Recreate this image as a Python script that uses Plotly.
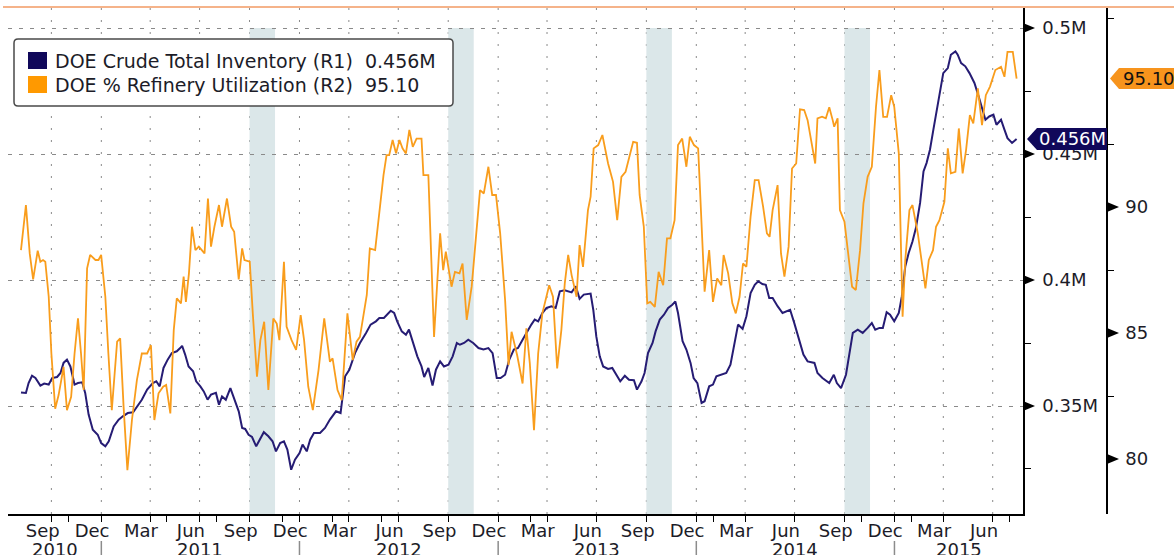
import pandas as pd
import plotly.graph_objects as go

# DOE weekly data.
# x positions are counted in weeks from the first print (6 Aug 2010)
start = pd.Timestamp("2010-08-06")

inv_week = [0, 1.3, 2.0, 2.9, 3.8, 5.1, 6.1, 7.3, 8.2, 9.5, 10.4, 11.2, 12.1, 13.0, 14.1, 15.0,
            16.1, 16.9, 17.8, 18.9, 20.2, 21.1, 22.2, 23.1, 24.4, 25.7, 26.8, 28.1, 29.5, 30.7,
            31.8, 33.2, 34.7, 35.6, 36.5, 37.5, 38.6, 39.7, 41.0, 41.9, 42.4, 43.2, 44.1, 45.3,
            46.1, 47.2, 48.1, 49.1, 50.0, 51.3, 52.1, 52.9, 53.9, 55.1, 56.1, 57.3, 58.2, 59.0,
            59.9, 60.8, 61.9, 63.0, 63.9, 65.1, 66.2, 67.1, 68.2, 69.2, 70.1, 71.1, 72.1, 73.3,
            74.1, 75.2, 76.1, 77.1, 78.7, 80.0, 81.3, 82.9, 84.1, 85.3, 86.4, 87.9, 89.2, 90.8,
            92.0, 93.4, 94.3, 95.5, 96.4, 97.3, 98.2, 99.0, 100.2, 101.3, 102.1, 103.1, 104.3,
            105.4, 106.1, 107.2, 108.3, 109.2, 110.3, 111.3, 112.5, 113.6, 114.7, 115.5, 116.6,
            117.7, 119.0, 120.4, 121.7, 123.0, 124.1, 125.2, 126.2, 127.4, 128.5, 129.7, 130.8,
            132.0, 133.2, 134.3, 135.2, 136.1, 137.2, 138.3, 139.6, 140.7, 141.8, 143.1, 144.9,
            146.0, 147.0, 148.1, 149.9, 150.6, 151.4, 152.3, 153.2, 154.5, 155.6, 156.7, 157.7,
            158.9, 160.0, 161.3, 162.1, 163.3, 164.1, 165.0, 166.2, 167.0, 168.1, 169.2, 170.3,
            171.4, 172.2, 172.9, 174.1, 175.1, 176.2, 177.0, 178.0, 179.1, 179.9, 181.1, 182.1,
            183.0, 184.1, 185.6, 186.7, 187.8, 188.7, 189.9, 190.9, 192.0, 193.1, 194.0, 195.1,
            196.0, 196.9, 197.8, 199.1, 200.4, 201.5, 202.4, 203.5, 204.8, 205.9, 207.0, 208.8,
            209.6, 210.9, 212.7, 213.9, 214.7, 215.8, 217.1, 218.0, 218.9, 220.2, 221.5, 222.8,
            223.9, 224.8, 225.9, 226.8, 227.8, 228.7, 229.8, 231.0, 231.8, 232.7, 233.6, 234.6,
            235.5, 236.6, 237.5, 238.3, 239.2, 240.1, 241.0, 241.8, 242.7, 243.9, 244.7, 245.9,
            246.5, 247.4, 248.5, 249.6, 250.9, 252.0, 252.9, 253.8, 254.8, 255.9, 256.7, 257.9,
            258.8, 259.6, 260.8, 262.0]
inv_level = [0.3554, 0.3552, 0.3591, 0.362, 0.3611, 0.3581, 0.3589, 0.3585, 0.3611, 0.3615, 0.3631,
             0.3671, 0.3684, 0.3657, 0.3585, 0.3591, 0.3594, 0.3552, 0.3466, 0.3406, 0.3386, 0.3353,
             0.334, 0.336, 0.3419, 0.3446, 0.3459, 0.3472, 0.3475, 0.3499, 0.3525, 0.3565, 0.3591,
             0.3598, 0.3578, 0.3651, 0.3684, 0.371, 0.3717, 0.373, 0.3739, 0.3704, 0.3657, 0.3638,
             0.3598, 0.3578, 0.3558, 0.3525, 0.3545, 0.3552, 0.3505, 0.3538, 0.3525, 0.3571, 0.3532,
             0.3479, 0.3413, 0.3409, 0.3386, 0.3377, 0.334, 0.3373, 0.3396, 0.338, 0.336, 0.332,
             0.3353, 0.336, 0.3327, 0.3247, 0.3287, 0.3313, 0.3347, 0.332, 0.3366, 0.3393, 0.3393,
             0.3413, 0.3446, 0.3479, 0.3472, 0.3618, 0.3644, 0.371, 0.375, 0.379, 0.3823, 0.3836,
             0.3849, 0.3849, 0.3862, 0.3878, 0.3869, 0.3836, 0.3796, 0.3783, 0.3803, 0.375, 0.3697,
             0.3657, 0.3615, 0.3651, 0.3581, 0.3644, 0.3677, 0.3657, 0.3664, 0.3697, 0.375, 0.3743,
             0.375, 0.3763, 0.375, 0.373, 0.3724, 0.373, 0.371, 0.3611, 0.3611, 0.3624, 0.3684,
             0.3724, 0.373, 0.3763, 0.3796, 0.3823, 0.3843, 0.3836, 0.3869, 0.3889, 0.3896, 0.3889,
             0.3955, 0.3959, 0.3951, 0.3975, 0.3925, 0.3942, 0.3946, 0.3882, 0.3776, 0.3697, 0.3657,
             0.3647, 0.3651, 0.362, 0.3598, 0.362, 0.3604, 0.3602, 0.3565, 0.3598, 0.3631, 0.371,
             0.375, 0.3796, 0.3843, 0.3862, 0.3889, 0.3902, 0.3915, 0.3869, 0.3757, 0.3724, 0.3671,
             0.3611, 0.3591, 0.3512, 0.3519, 0.3578, 0.3585, 0.3618, 0.3624, 0.3631, 0.3664, 0.375,
             0.3823, 0.3806, 0.3856, 0.3948, 0.3981, 0.3995, 0.3984, 0.3981, 0.3929, 0.3929, 0.3896,
             0.3869, 0.3876, 0.3882, 0.3829, 0.3763, 0.3704, 0.3677, 0.3671, 0.3631, 0.3611, 0.3591,
             0.3624, 0.3591, 0.3571, 0.3624, 0.371, 0.379, 0.3803, 0.379, 0.381, 0.3829, 0.3803,
             0.381, 0.381, 0.3872, 0.3862, 0.3836, 0.3869, 0.3935, 0.4054, 0.4107, 0.4153, 0.4206,
             0.4306, 0.4431, 0.4464, 0.4517, 0.4597, 0.4676, 0.4729, 0.4821, 0.4841, 0.4894, 0.4907,
             0.4894, 0.4861, 0.4848, 0.4821, 0.4782, 0.4729, 0.4683, 0.4636, 0.4649, 0.4656, 0.4616,
             0.4636, 0.4597, 0.4563, 0.4544, 0.456]

util_week = [0, 1.3, 2.3, 3.2, 4.4, 5.1, 5.8, 6.4, 7.3, 8.0, 9.0, 9.9, 10.6, 11.2, 12.1, 13.2, 14.1,
             15.0, 15.8, 16.5, 17.4, 18.2, 19.6, 20.4, 21.1, 22.2, 23.0, 23.9, 25.3, 26.1, 27.0,
             28.0, 29.2, 30.5, 31.8, 33.2, 34.2, 35.1, 36.2, 37.4, 38.2, 39.3, 40.2, 41.0, 42.1,
             42.8, 43.4, 44.2, 45.0, 45.9, 46.8, 47.6, 48.3, 49.2, 50.0, 50.9, 52.1, 52.9, 54.2,
             55.3, 56.1, 57.3, 58.2, 58.8, 60.2, 61.0, 62.1, 63.0, 64.0, 65.1, 66.4, 67.3, 68.0,
             69.2, 69.9, 71.2, 72.4, 73.6, 74.5, 75.6, 76.8, 78.3, 79.8, 81.3, 82.0, 83.3, 84.4,
             85.9, 87.3, 88.3, 89.2, 91.0, 91.8, 93.2, 94.0, 95.4, 96.2, 96.9, 97.8, 98.7, 99.6,
             100.4, 101.3, 102.2, 103.1, 104.1, 105.4, 105.9, 107.2, 108.7, 110.3, 111.1, 111.8,
             112.6, 113.3, 114.2, 115.4, 116.2, 117.3, 118.6, 120.8, 121.8, 123.0, 124.0, 125.0,
             126.1, 127.4, 128.3, 129.1, 130.6, 132.0, 133.0, 133.9, 135.0, 136.1, 137.2, 139.0,
             140.0, 141.1, 142.2, 143.1, 144.0, 144.9, 146.2, 147.0, 147.9, 149.2, 149.9, 150.7,
             151.9, 153.0, 154.5, 155.8, 156.9, 158.0, 159.1, 160.2, 161.1, 162.1, 162.8, 163.9,
             164.8, 165.6, 166.8, 167.8, 169.0, 170.0, 170.9, 172.0, 172.9, 174.0, 175.1, 176.0,
             177.1, 178.2, 179.1, 179.9, 181.1, 182.1, 183.2, 184.3, 184.9, 186.1, 187.2, 188.1,
             189.1, 190.0, 190.9, 192.0, 193.1, 194.1, 195.3, 196.3, 197.0, 197.8, 199.1, 200.0,
             200.9, 202.0, 202.9, 204.0, 205.0, 206.1, 207.0, 208.2, 209.0, 209.6, 210.8, 211.8,
             212.7, 213.6, 214.0, 214.9, 215.5, 216.7, 217.5, 218.7, 219.7, 220.8, 221.7, 222.8,
             223.9, 225.0, 225.9, 226.9, 227.9, 229.0, 229.8, 231.0, 232.0, 232.7, 233.8, 234.6,
             236.0, 236.8, 238.0, 238.9, 240.0, 240.8, 241.7, 243.0, 243.9, 244.7, 245.9, 246.8,
             247.8, 248.7, 249.7, 250.6, 251.8, 252.9, 253.9, 255.0, 256.4, 257.9, 258.8, 259.6,
             261.0, 262.0]
util_pct = [88.29, 90.08, 88.16, 87.13, 88.27, 87.83, 87.9, 87.83, 86.44, 84.19, 82.0, 82.54, 83.13,
            83.66, 81.94, 82.47, 84.19, 85.58, 84.19, 82.74, 87.57, 88.1, 87.9, 87.9, 88.1, 86.44,
            84.19, 81.94, 84.66, 84.79, 82.08, 79.56, 81.55, 83.13, 84.19, 84.19, 84.52, 81.55,
            82.61, 82.87, 82.94, 81.81, 85.12, 86.38, 86.18, 87.24, 86.24, 87.37, 89.22, 88.29,
            88.43, 88.29, 88.16, 90.34, 88.43, 89.22, 90.08, 89.22, 90.34, 89.22, 89.02, 87.13,
            88.36, 87.9, 87.83, 85.78, 83.27, 84.72, 85.45, 82.74, 85.58, 85.38, 84.72, 87.83,
            85.25, 84.72, 84.33, 85.71, 84.72, 82.87, 81.94, 83.53, 85.58, 83.86, 84.0, 82.74,
            82.34, 85.78, 83.93, 84.66, 84.85, 86.51, 88.36, 88.29, 89.48, 91.27, 92.06, 92.06,
            92.66, 92.13, 92.66, 92.33, 92.13, 93.06, 92.39, 92.72, 92.72, 91.27, 91.27, 84.85,
            88.96, 87.5, 88.23, 87.57, 86.84, 87.43, 87.37, 87.76, 85.52, 86.84, 90.67, 90.54,
            91.6, 90.48, 90.48, 88.96, 86.31, 83.73, 85.05, 84.1, 83.0, 85.19, 83.8, 81.15, 84.19,
            85.78, 86.9, 86.44, 83.6, 85.12, 86.97, 88.1, 87.3, 86.44, 88.49, 87.63, 89.88, 90.41,
            92.33, 92.46, 92.86, 91.73, 91.0, 89.48, 91.2, 91.4, 92.0, 92.59, 92.55, 90.48, 89.22,
            86.18, 86.24, 86.04, 87.43, 86.9, 88.76, 88.76, 89.48, 92.46, 92.72, 91.6, 92.79, 92.46,
            92.33, 89.48, 86.64, 88.29, 86.24, 87.17, 86.9, 88.1, 87.37, 86.18, 85.78, 86.44, 87.76,
            87.63, 89.62, 91.07, 91.07, 90.01, 88.96, 88.82, 89.88, 90.87, 88.16, 87.24, 88.43,
            91.53, 91.73, 93.88, 93.85, 93.45, 92.39, 91.73, 93.52, 93.59, 93.52, 93.96, 93.45,
            93.19, 93.52, 89.88, 89.42, 88.43, 86.84, 86.71, 88.29, 90.15, 91.2, 91.6, 93.98, 95.44,
            93.58, 93.58, 94.44, 93.98, 92.13, 85.65, 87.9, 89.88, 90.08, 88.96, 88.16, 86.77, 87.9,
            88.29, 89.22, 89.48, 90.21, 92.33, 91.34, 91.4, 93.12, 91.34, 92.26, 93.65, 93.32, 94.71,
            93.25, 94.44, 94.78, 95.44, 95.57, 95.17, 96.16, 96.16, 95.10]

# shaded autumn maintenance windows
maint_start = ["2011-10-01", "2012-10-01", "2013-10-01", "2014-10-01"]
maint_end = ["2011-11-17", "2012-11-17", "2013-11-17", "2014-11-17"]

# odd extra ticks on the Bloomberg date axis
extra_ticks = ["2010-11-01", "2011-05-01", "2011-08-01", "2011-12-01", "2012-03-01", "2012-06-01",
               "2013-03-01", "2014-02-01", "2014-11-01", "2015-02-01", "2015-08-01"]

inv_ticks = [0.35, 0.40, 0.45, 0.50]
inv_ticktext = ["0.35M", "0.4M", "0.45M", "0.5M"]
util_ticks = [80, 85, 90]
inv_last = 0.456
util_last = 95.10

assert len(inv_week) == len(inv_level), (len(inv_week), len(inv_level))
assert len(util_week) == len(util_pct), (len(util_week), len(util_pct))

inv_dates = [start + pd.Timedelta(days=7 * w) for w in inv_week]
util_dates = [start + pd.Timedelta(days=7 * w) for w in util_week]

NAVY = "#261c74"
NAVY_TAG = "#10085a"
ORANGE = "#f99d1c"
ORANGE_TAG = "#f7941d"
GRID = "#8a8a8a"
TXT = "#1c1c28"
FONT = "DejaVu Sans"

W, H = 1174, 555
ML, MR, MT, MB = 8, 67, 8, 41
PW, PH = W - ML - MR, H - MT - MB
XDOM = (1023 - ML) / PW


def px(x):
    return (x - ML) / PW


def py(y):
    return 1 - (y - MT) / PH


def rounded_box(x0, y0, x1, y1, r=4):
    # pixel box (top-left / bottom-right) -> rounded path in paper coords
    a, b, c, d = px(x0), py(y1), px(x1), py(y0)
    rx, ry = r / PW, r / PH
    return (f"M{a + rx},{d} L{c - rx},{d} Q{c},{d} {c},{d - ry} L{c},{b + ry} Q{c},{b} {c - rx},{b} "
            f"L{a + rx},{b} Q{a},{b} {a},{b + ry} L{a},{d - ry} Q{a},{d} {a + rx},{d} Z")


x_range = [pd.Timestamp("2010-07-13 02:00"), pd.Timestamp("2015-08-25 19:00")]
inv_range = [0.30714, 0.50794]
util_range = [77.82, 97.90]

month_pos = pd.date_range("2010-09-01", "2015-06-01", freq="3MS") + pd.Timedelta(days=14)
month_txt = [d.strftime("%b") for d in month_pos]
quarters = pd.date_range("2010-10-01", "2015-07-01", freq="QS")

fig = go.Figure()
fig.add_trace(go.Scatter(x=inv_dates, y=inv_level, mode="lines", yaxis="y",
                         line=dict(color=NAVY, width=2), hoverinfo="skip"))
fig.add_trace(go.Scatter(x=util_dates, y=util_pct, mode="lines", yaxis="y2",
                         line=dict(color=ORANGE, width=1.8), hoverinfo="skip"))

shapes = []
for s, e in zip(maint_start, maint_end):
    shapes.append(dict(type="rect", xref="x", yref="y", x0=s, x1=e, y0=inv_range[0], y1=0.5,
                       fillcolor="#dbe7e9", line=dict(width=0), layer="below"))
for q in quarters:
    shapes.append(dict(type="line", xref="x", yref="paper", x0=q, x1=q, y0=0, y1=1,
                       line=dict(color=GRID, width=1, dash="2px,10px"), layer="below"))

# arrow heads on the major ticks of both right hand axes
for v in inv_ticks:
    shapes.append(dict(type="path", xref="paper", xanchor=XDOM, xsizemode="pixel",
                       yref="y", yanchor=v, ysizemode="pixel",
                       path="M0,-5 L12,0 L0,5 Z", fillcolor="black", line=dict(width=0)))
for v in util_ticks:
    shapes.append(dict(type="path", xref="paper", xanchor=1, xsizemode="pixel",
                       yref="y2", yanchor=v, ysizemode="pixel",
                       path="M0,-5 L12,0 L0,5 Z", fillcolor="black", line=dict(width=0)))

# last value tags
shapes.append(dict(type="path", xref="paper", xanchor=XDOM, xsizemode="pixel",
                   yref="y", yanchor=inv_last, ysizemode="pixel",
                   path="M4,0 L14,-11 L84,-11 L84,11 L14,11 Z", fillcolor=NAVY_TAG, line=dict(width=0)))
shapes.append(dict(type="path", xref="paper", xanchor=1, xsizemode="pixel",
                   yref="y2", yanchor=util_last, ysizemode="pixel",
                   path="M3,0 L12,-10.5 L80,-10.5 L80,10.5 L12,10.5 Z", fillcolor=ORANGE_TAG,
                   line=dict(width=0)))

# year separators under the month labels
for yr in range(2011, 2016):
    shapes.append(dict(type="line", xref="x", yref="paper", x0=f"{yr}-01-01", x1=f"{yr}-01-01",
                       y0=py(541), y1=py(560), line=dict(color="#8c8c8c", width=1.5)))

# legend box
shapes.append(dict(type="path", xref="paper", yref="paper", path=rounded_box(14, 39, 453, 106),
                   fillcolor="white", line=dict(color="#4a4a4a", width=1.5)))
shapes.append(dict(type="rect", xref="paper", yref="paper", x0=px(28), x1=px(47), y0=py(69), y1=py(52),
                   fillcolor=NAVY_TAG, line=dict(width=0)))
shapes.append(dict(type="rect", xref="paper", yref="paper", x0=px(28), x1=px(47), y0=py(93), y1=py(76),
                   fillcolor="#ff9900", line=dict(width=0)))

# thin orange rule under the (cropped) headline
shapes.append(dict(type="line", xref="paper", yref="paper", x0=px(3), x1=px(W + 5), y0=py(7), y1=py(7),
                   line=dict(color="#f29a63", width=1.5)))

annotations = [
    dict(xref="paper", yref="paper", x=px(53), y=py(61), xanchor="left", yanchor="middle", showarrow=False,
         text="DOE Crude Total Inventory (R1)\u00a0 0.456M", font=dict(family=FONT, size=19, color=TXT)),
    dict(xref="paper", yref="paper", x=px(53), y=py(85), xanchor="left", yanchor="middle", showarrow=False,
         text="DOE % Refinery Utilization (R2)\u00a0 95.10", font=dict(family=FONT, size=19, color=TXT)),
    dict(xref="paper", yref="y", x=XDOM, y=inv_last, xanchor="left", yanchor="middle", xshift=14,
         showarrow=False, text=f"{inv_last:.3f}M", font=dict(family=FONT, size=18, color="white")),
    dict(xref="paper", yref="y2", x=1, y=util_last, xanchor="left", yanchor="middle", xshift=14,
         showarrow=False, text=f"{util_last:.2f}", font=dict(family=FONT, size=18, color="#111111")),
]

# year labels centred on the visible part of each year
for yr in range(2010, 2016):
    lo = max(x_range[0], pd.Timestamp(f"{yr}-01-01"))
    hi = min(x_range[1], pd.Timestamp(f"{yr + 1}-01-01"))
    annotations.append(dict(xref="x", yref="paper", x=lo + (hi - lo) / 2, y=py(549), yanchor="middle",
                            showarrow=False, text=str(yr), font=dict(family=FONT, size=18, color=TXT)))

fig.update_layout(
    width=W, height=H,
    margin=dict(l=ML, r=MR, t=MT, b=MB, pad=0),
    paper_bgcolor="white", plot_bgcolor="white",
    showlegend=False,
    font=dict(family=FONT, size=18, color=TXT),
    xaxis=dict(domain=[0, XDOM], type="date", range=x_range, showgrid=False, zeroline=False,
               showline=True, linecolor="black", linewidth=1.5,
               tickmode="array", tickvals=list(month_pos), ticktext=month_txt, ticks="",
               tickfont=dict(family=FONT, size=18, color=TXT),
               minor=dict(tickmode="array", tickvals=list(quarters) + extra_ticks, ticks="outside",
                          ticklen=6, tickcolor="black", tickwidth=1, showgrid=False)),
    yaxis=dict(anchor="x", side="right", range=inv_range, tickmode="array", tickvals=inv_ticks,
               ticktext=inv_ticktext, ticks="outside", ticklen=14, tickcolor="rgba(0,0,0,0)",
               showgrid=True, gridcolor=GRID, griddash="4px,7px", gridwidth=1, zeroline=False,
               showline=True, linecolor="black", linewidth=1.5,
               tickfont=dict(family=FONT, size=18, color=TXT),
               minor=dict(tickmode="array", tickvals=[0.325, 0.375, 0.425, 0.475], ticks="outside",
                          ticklen=6, tickcolor="black", showgrid=False)),
    yaxis2=dict(overlaying="y", side="right", anchor="free", position=1, range=util_range,
                tickmode="array", tickvals=util_ticks, ticks="outside", ticklen=14,
                tickcolor="rgba(0,0,0,0)", showgrid=False, zeroline=False,
                showline=True, linecolor="black", linewidth=1.5,
                tickfont=dict(family=FONT, size=18, color=TXT),
                minor=dict(tickmode="array", tickvals=[82.5, 87.5, 92.5, 97.5], ticks="outside",
                           ticklen=6, tickcolor="black", showgrid=False)),
    shapes=shapes,
    annotations=annotations,
)

# the page's default body margin would push the 1174x555 figure off the window
fig.write_html("out.html", config={"displayModeBar": False},
               post_script="document.body.style.margin='0px'; document.body.style.overflow='hidden';")
